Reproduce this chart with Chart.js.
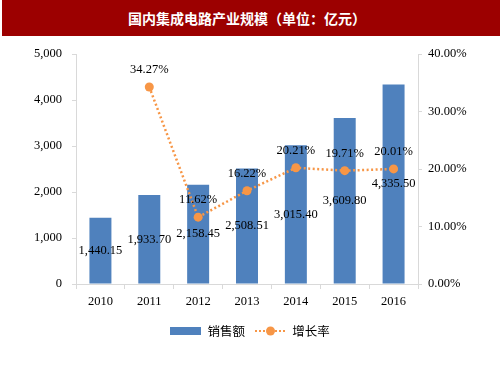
<!DOCTYPE html>
<html>
<head>
<meta charset="utf-8">
<script src="https://cdn.jsdelivr.net/npm/chart.js@4/dist/chart.umd.min.js"></script>
<style>
  html,body{margin:0;padding:0;background:#fff;}
  #wrap{position:relative;width:500px;height:375px;overflow:hidden;}
  #title{position:absolute;left:2px;top:0;width:498px;height:36px;background:#9c0000;color:#fff;
    font:bold 14px "Noto Sans CJK SC",sans-serif;line-height:36px;text-align:center;text-indent:-8px;z-index:2;}
  #chart{position:absolute;left:0;top:0;}
</style>
</head>
<body>
<div id="wrap">
  <div id="title">国内集成电路产业规模（单位：亿元）</div>
  <canvas id="chart" width="500" height="375"></canvas>
</div>
<script>
/* 國內集成電路產業規模 */
const years = ['2010','2011','2012','2013','2014','2015','2016'];
const sales = [1440.15, 1933.70, 2158.45, 2508.51, 3015.40, 3609.80, 4335.50];
const growth = [null, 34.27, 11.62, 16.22, 20.21, 19.71, 20.01];
const seriesNames = ['销售额', '增长率'];

(function(){
  const BLUE = '#4f81bd', ORANGE = '#f79646', AXIS = '#d9d9d9';
  const serif = {family:'"Liberation Serif","Times New Roman",serif', size:12.5};
  const fmtNum = v => v.toLocaleString('en-US',{minimumFractionDigits:2,maximumFractionDigits:2});

  // legend icons
  const iconBar = document.createElement('canvas');
  iconBar.width = 31; iconBar.height = 8;
  (c=>{ c.fillStyle = BLUE; c.fillRect(0,0,31,8); })(iconBar.getContext('2d'));
  const iconLine = document.createElement('canvas');
  iconLine.width = 31; iconLine.height = 10;
  (c=>{
    c.strokeStyle = ORANGE; c.lineWidth = 2; c.setLineDash([2,2]);
    c.beginPath(); c.moveTo(0,5); c.lineTo(31,5); c.stroke();
    c.fillStyle = ORANGE; c.beginPath(); c.arc(15.5,5,4.5,0,Math.PI*2); c.fill();
  })(iconLine.getContext('2d'));
  const icons = [iconBar, iconLine];

  const valueLabels = {
    id:'valueLabels',
    afterDatasetsDraw(chart){
      const ctx = chart.ctx;
      ctx.save();
      ctx.font = `${serif.size}px ${serif.family}`;
      ctx.fillStyle = '#000';
      ctx.textAlign = 'center'; ctx.textBaseline = 'middle';
      chart.getDatasetMeta(0).data.forEach((b,i)=>{
        ctx.fillText(fmtNum(sales[i]), b.x, (b.y + b.base)/2);
      });
      chart.getDatasetMeta(1).data.forEach((p,i)=>{
        if(growth[i]==null) return;
        ctx.fillText(growth[i].toFixed(2)+'%', p.x, p.y - 17);
      });
      ctx.restore();
    }
  };

  new Chart(document.getElementById('chart'),{
    data:{labels:years, datasets:[
      {type:'bar', label:seriesNames[0], data:sales, backgroundColor:BLUE, yAxisID:'y',
        categoryPercentage:1, barPercentage:0.45, order:2},
      {type:'line', label:seriesNames[1], data:growth, yAxisID:'y1', borderColor:ORANGE, borderWidth:2.5,
        borderDash:[2,2.5], pointRadius:4.5, pointBackgroundColor:ORANGE, pointBorderWidth:0, order:1}
    ]},
    options:{
      responsive:false, animation:false,
      layout:{padding:{top:54, bottom:27.75, left:0, right:0}},
      plugins:{
        tooltip:{enabled:false},
        legend:{position:'bottom', labels:{
          usePointStyle:true, pointStyleWidth:31, padding:10, color:'#000',
          font:{family:'"Noto Sans CJK SC",sans-serif', size:12.5},
          sort:(a,b)=>a.datasetIndex-b.datasetIndex,
          generateLabels:c=>Chart.defaults.plugins.legend.labels.generateLabels(c)
            .map(l=>Object.assign(l,{pointStyle:icons[l.datasetIndex]}))
        }}
      },
      scales:{
        x:{offset:true, afterFit:s=>{s.height=30.75;},
          grid:{offset:true, drawOnChartArea:false, tickLength:5, color:AXIS},
          border:{color:AXIS}, ticks:{font:serif, color:'#000', padding:5}},
        y:{position:'left', min:0, max:5000, afterFit:s=>{s.width=76;},
          grid:{drawOnChartArea:false, tickLength:4, color:AXIS}, border:{color:AXIS},
          ticks:{stepSize:1000, font:serif, color:'#000', padding:10, callback:v=>v.toLocaleString('en-US')}},
        y1:{position:'right', min:0, max:40, afterFit:s=>{s.width=82;},
          grid:{drawOnChartArea:false, tickLength:4, color:AXIS}, border:{color:AXIS},
          ticks:{stepSize:10, font:serif, color:'#000', padding:6, callback:v=>v.toFixed(2)+'%'}}
      }
    },
    plugins:[valueLabels]
  });
})();
</script>
</body>
</html>
